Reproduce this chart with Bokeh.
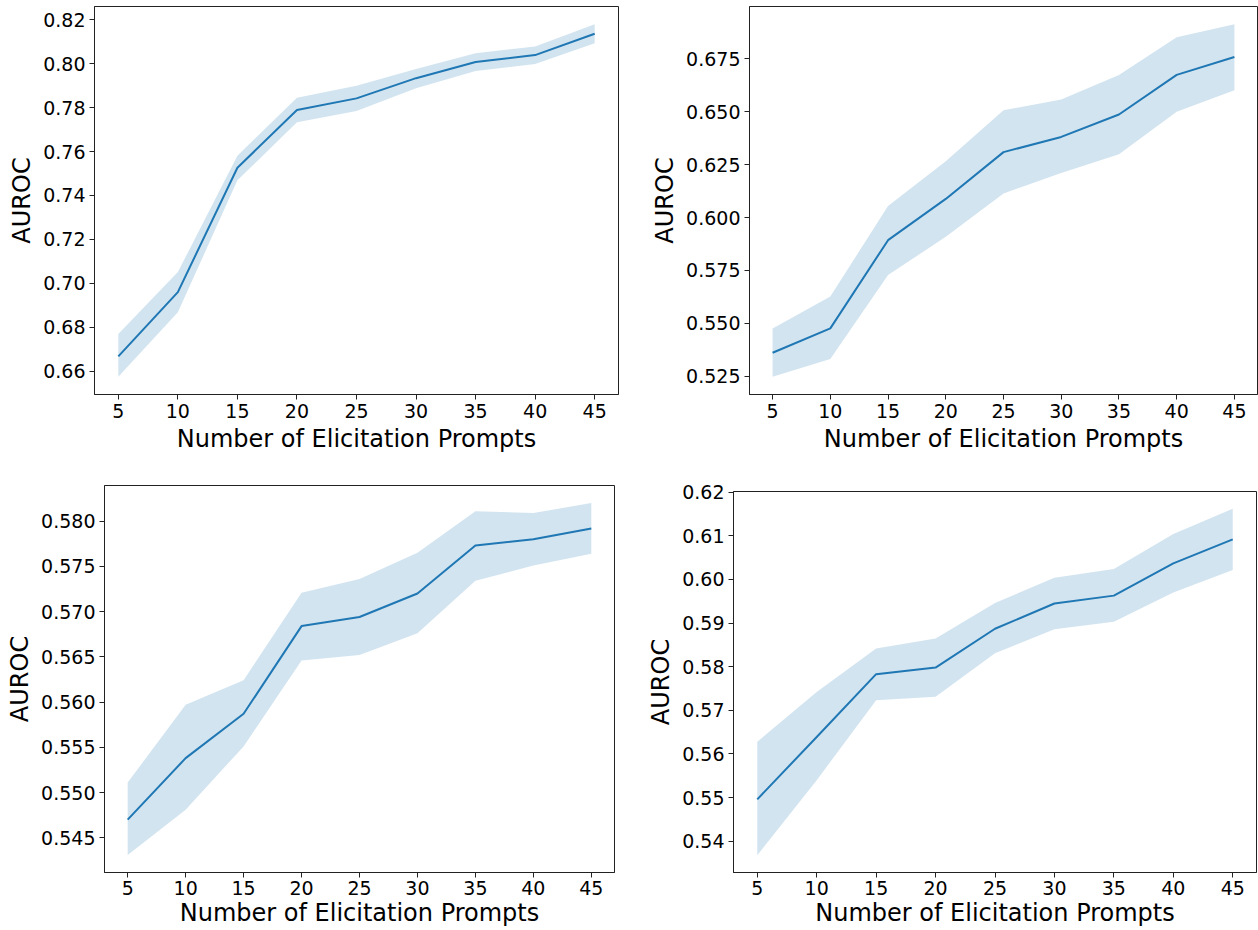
from bokeh.plotting import figure
from bokeh.layouts import column, row
from bokeh.models import FixedTicker, PrintfTickFormatter, Range1d
from bokeh.embed import file_html
from bokeh.resources import INLINE

# ---------------- data ----------------
prompts = [5, 10, 15, 20, 25, 30, 35, 40, 45]
x_ticks = [5, 10, 15, 20, 25, 30, 35, 40, 45]

# top-left panel
a_mean = [0.6667, 0.6960, 0.7526, 0.7789, 0.7842, 0.7934, 0.8008, 0.8039, 0.8136]
a_upper = [0.6769, 0.7051, 0.7581, 0.7845, 0.7899, 0.7976, 0.8048, 0.8078, 0.8180]
a_lower = [0.6574, 0.6868, 0.7469, 0.7733, 0.7784, 0.7888, 0.7967, 0.7998, 0.8093]
a_yticks = [0.66, 0.68, 0.70, 0.72, 0.74, 0.76, 0.78, 0.80, 0.82]

# top-right panel
b_mean = [0.5361, 0.5476, 0.5893, 0.6088, 0.6309, 0.6381, 0.6487, 0.6674, 0.6759]
b_upper = [0.5476, 0.5627, 0.6054, 0.6266, 0.6507, 0.6558, 0.6674, 0.6852, 0.6914]
b_lower = [0.5247, 0.5331, 0.5728, 0.5909, 0.6114, 0.6210, 0.6299, 0.6500, 0.6602]
b_yticks = [0.525, 0.550, 0.575, 0.600, 0.625, 0.650, 0.675]

# bottom-left panel
c_mean = [0.5470, 0.5538, 0.5587, 0.5684, 0.5694, 0.5720, 0.5773, 0.5780, 0.5792]
c_upper = [0.5511, 0.5597, 0.5624, 0.5721, 0.5736, 0.5765, 0.5811, 0.5809, 0.5820]
c_lower = [0.5431, 0.5481, 0.5551, 0.5646, 0.5652, 0.5676, 0.5734, 0.5751, 0.5764]
c_yticks = [0.545, 0.550, 0.555, 0.560, 0.565, 0.570, 0.575, 0.580]

# bottom-right panel
d_mean = [0.5496, 0.5639, 0.5783, 0.5798, 0.5887, 0.5945, 0.5963, 0.6037, 0.6092]
d_upper = [0.5628, 0.5742, 0.5842, 0.5865, 0.5946, 0.6004, 0.6024, 0.6104, 0.6162]
d_lower = [0.5368, 0.5540, 0.5723, 0.5731, 0.5831, 0.5886, 0.5903, 0.5970, 0.6022]
d_yticks = [0.54, 0.55, 0.56, 0.57, 0.58, 0.59, 0.60, 0.61, 0.62]

x_label = "Number of Elicitation Prompts"
y_label = "AUROC"

BLUE = "#1f77b4"
FONT = "DejaVu Sans"


def make_panel(mean, lower, upper, yticks, fmt, width, height,
               bl, br, bt, bb, label_standoff=4, tick_label_standoff=4):
    p = figure(width=width, height=height, output_backend="svg",
               toolbar_location=None,
               min_border_left=bl, min_border_right=br,
               min_border_top=bt, min_border_bottom=bb)
    p.x_range = Range1d(3, 47)
    lo, hi = min(lower), max(upper)
    pad = 0.05 * (hi - lo)
    p.y_range = Range1d(lo - pad, hi + pad)

    p.varea(x=prompts, y1=lower, y2=upper, fill_color=BLUE, fill_alpha=0.2)
    p.line(x=prompts, y=mean, line_color=BLUE, line_width=2)

    p.xgrid.visible = False
    p.ygrid.visible = False
    p.outline_line_color = "#222222"
    p.outline_line_width = 1
    p.background_fill_color = "white"
    p.border_fill_color = "white"

    p.xaxis.ticker = FixedTicker(ticks=x_ticks)
    p.yaxis.ticker = FixedTicker(ticks=yticks)
    p.yaxis.formatter = PrintfTickFormatter(format=fmt)
    p.xaxis.axis_label = x_label
    p.yaxis.axis_label = y_label
    for ax in (p.xaxis, p.yaxis):
        ax.axis_line_color = "#222222"
        ax.axis_line_width = 1
        ax.major_tick_line_color = "#222222"
        ax.major_tick_out = 5
        ax.major_tick_in = 0
        ax.minor_tick_line_color = None
        ax.major_label_text_font = FONT
        ax.major_label_text_font_size = "19px"
        ax.major_label_text_color = "black"
        ax.major_label_standoff = 4
        ax.axis_label_text_font = FONT
        ax.axis_label_text_font_size = "24px"
        ax.axis_label_text_font_style = "normal"
        ax.axis_label_text_color = "black"
        ax.axis_label_standoff = 4
    p.xaxis.axis_label_standoff = label_standoff
    p.xaxis.major_label_standoff = tick_label_standoff
    return p


p1 = make_panel(a_mean, a_lower, a_upper, a_yticks, "%.2f",
                width=628, height=456, bl=94, br=10, bt=6, bb=62)
p2 = make_panel(b_mean, b_lower, b_upper, b_yticks, "%.3f",
                width=630, height=456, bl=121, br=1, bt=6, bb=62)
p3 = make_panel(c_mean, c_lower, c_upper, c_yticks, "%.3f",
                width=624, height=473, bl=104, br=10, bt=29, bb=56,
                label_standoff=1, tick_label_standoff=3)
p4 = make_panel(d_mean, d_lower, d_upper, d_yticks, "%.2f",
                width=634, height=473, bl=109, br=2, bt=35, bb=56,
                label_standoff=1, tick_label_standoff=3)

layout = column(row(p1, p2), row(column(p3), column(p4)))

open("out.html", "w").write(file_html(layout, INLINE))
